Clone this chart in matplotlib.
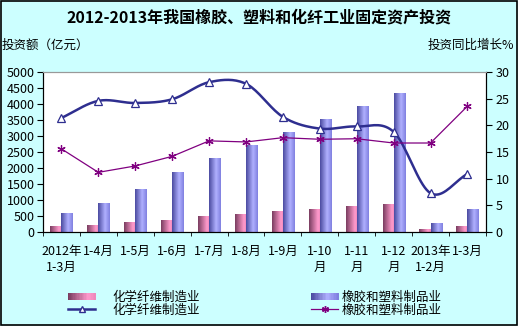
import numpy as np
import matplotlib
matplotlib.use('Agg')
import matplotlib.pyplot as plt
from matplotlib.colors import LinearSegmentedColormap
from matplotlib.patches import Rectangle
from matplotlib.lines import Line2D
from matplotlib.legend_handler import HandlerBase

plt.rcParams['font.family'] = ['Noto Sans CJK SC', 'DejaVu Sans']

# --- DATA ---
categories = ['2012年\n1-3月', '1-4月', '1-5月', '1-6月', '1-7月', '1-8月', '1-9月',
              '1-10\n月', '1-11\n月', '1-12\n月', '2013年\n1-2月', '1-3月']
fiber_invest = [180, 230, 320, 385, 490, 570, 665, 730, 820, 885, 105, 200]
rubber_invest = [600, 920, 1350, 1885, 2320, 2730, 3135, 3540, 3950, 4355, 290, 730]
fiber_growth = [21.4, 24.6, 24.2, 24.9, 28.1, 27.8, 21.6, 19.4, 19.8, 18.8, 7.3, 10.9]
rubber_growth = [15.6, 11.2, 12.4, 14.2, 17.1, 16.9, 17.7, 17.4, 17.5, 16.7, 16.7, 23.6]

BG = '#CCFFFF'
pink_cmap = LinearSegmentedColormap.from_list('pink', [(0, '#7A3D60'), (0.75, '#FF9ACC'), (1, '#EE88BB')])
blue_cmap = LinearSegmentedColormap.from_list('blue', [(0, '#4A4AA0'), (0.6, '#B0B0FF'), (1, '#8080E0')])


def smooth(x, y, n=20):
    """Catmull-Rom curve through the points (like Excel's smoothed line)."""
    x = np.asarray(x, float)
    y = np.asarray(y, float)
    px = np.concatenate([[2 * x[0] - x[1]], x, [2 * x[-1] - x[-2]]])
    py = np.concatenate([[2 * y[0] - y[1]], y, [2 * y[-1] - y[-2]]])
    t = np.linspace(0, 1, n)
    xs, ys = [], []
    for i in range(1, len(px) - 2):
        for p, out in ((px, xs), (py, ys)):
            p0, p1, p2, p3 = p[i - 1], p[i], p[i + 1], p[i + 2]
            out.append(0.5 * (2 * p1 + (-p0 + p2) * t + (2 * p0 - 5 * p1 + 4 * p2 - p3) * t ** 2
                              + (-p0 + 3 * p1 - 3 * p2 + p3) * t ** 3))
    return np.concatenate(xs), np.concatenate(ys)


def gradient_bars(ax, bars, cmap):
    grad = np.linspace(0, 1, 64).reshape(1, -1)
    for b in bars:
        b.set_facecolor('none')
        x0, y0 = b.get_x(), b.get_y()
        im = ax.imshow(grad, cmap=cmap, aspect='auto', interpolation='bilinear',
                       extent=(x0, x0 + b.get_width(), y0, y0 + b.get_height()), zorder=2)
        im.set_clip_path(b)


class GradientHandler(HandlerBase):
    def __init__(self, cmap):
        super().__init__()
        self.cmap = cmap

    def create_artists(self, legend, orig_handle, xdescent, ydescent, width, height, fontsize, trans):
        n = 20
        arts = []
        for i in range(n):
            r = Rectangle((-xdescent + width * i / n, -ydescent + height * 0.1), width / n + 0.3, height * 0.8,
                          facecolor=self.cmap(i / (n - 1)), edgecolor='none', transform=trans)
            arts.append(r)
        return arts


fig = plt.figure(figsize=(5.18, 3.26), dpi=100, facecolor=BG)
ax1 = fig.add_axes([0.083, 0.288, 0.855, 0.491])
ax2 = ax1.twinx()

x = np.arange(len(categories))
w = 0.3
bars_f = ax1.bar(x - w / 2, fiber_invest, w, zorder=2)
bars_r = ax1.bar(x + w / 2, rubber_invest, w, zorder=2)
gradient_bars(ax1, bars_f, pink_cmap)
gradient_bars(ax1, bars_r, blue_cmap)

ax1.set_xlim(-0.5, len(categories) - 0.5)
ax1.set_ylim(0, 5000)
ax1.set_yticks(np.arange(0, 5001, 500))
ax1.set_xticks(x)
ax1.set_xticklabels(categories, fontsize=9, linespacing=1.3)
ax1.set_xticks(np.arange(-0.5, len(categories)), minor=True)
ax1.tick_params(axis='x', which='major', length=0, pad=9)
ax1.tick_params(axis='x', which='minor', length=3, direction='out')
ax1.tick_params(axis='y', labelsize=9, length=4, direction='out', pad=2)

sx, sy = smooth(x, fiber_growth)
ax2.plot(sx, sy, color='#2E2E8F', lw=1.8, zorder=3)
ax2.plot(x, fiber_growth, ls='none', marker='^', ms=6, mfc='white', mec='#2E2E8F', mew=0.9, zorder=4)
ax2.plot(x, rubber_growth, color='#800080', lw=0.9, marker=(6, 2, 0), ms=6, mec='#800080', mew=0.9, zorder=4)
ax2.set_ylim(0, 30)
ax2.set_yticks(np.arange(0, 31, 5))
ax2.tick_params(axis='y', labelsize=9, length=4, direction='out', pad=3)

for a in (ax1, ax2):
    for s in ('left', 'right', 'bottom'):
        a.spines[s].set_color('#000000')
        a.spines[s].set_linewidth(0.8)
    a.spines['top'].set_color('#999999')
    a.spines['top'].set_linewidth(0.8)
ax1.set_facecolor('white')

fig.text(0.5, 0.948, '2012-2013年我国橡胶、塑料和化纤工业固定资产投资', ha='center', va='center',
         fontsize=11.5, fontweight='bold')
fig.text(0.004, 0.862, '投资额（亿元）', ha='left', va='center', fontsize=9)
fig.text(0.992, 0.862, '投资同比增长%', ha='right', va='center', fontsize=9)

h_fb = Rectangle((0, 0), 1, 1)
h_rb = Rectangle((0, 1), 1, 1)
h_fl = Line2D([], [], color='#2E2E8F', lw=1.8, marker='^', ms=5, mfc='white', mec='#2E2E8F')
h_rl = Line2D([], [], color='#800080', lw=0.9, marker=(6, 2, 0), ms=5, mec='#800080')
leg_kw = dict(frameon=False, fontsize=9, handlelength=2.2, handleheight=0.8,
              labelspacing=0.0, borderpad=0, borderaxespad=0, loc='center left')
leg1 = fig.legend([h_fb, h_fl], ['化学纤维制造业', '化学纤维制造业'],
                  bbox_to_anchor=(0.131, 0.068), handletextpad=1.4,
                  handler_map={h_fb: GradientHandler(pink_cmap)}, **leg_kw)
leg2 = fig.legend([h_rb, h_rl], ['橡胶和塑料制品业', '橡胶和塑料制品业'],
                  bbox_to_anchor=(0.600, 0.068), handletextpad=0.25,
                  handler_map={h_rb: GradientHandler(blue_cmap)}, **leg_kw)

fig.add_artist(Rectangle((0.001, 0.002), 0.997, 0.995, transform=fig.transFigure,
                         fill=False, edgecolor='black', lw=1.2))

fig.savefig('out.png', dpi=100, facecolor=BG)
